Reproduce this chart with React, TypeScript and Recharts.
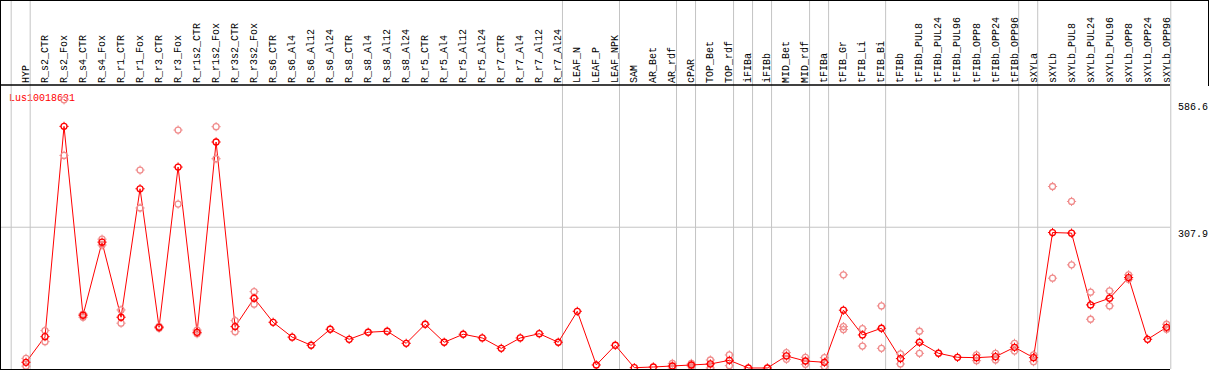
import { ComposedChart, Line, XAxis, YAxis, ReferenceLine } from "recharts";

const geneId = "Lus10018631";

const categories = [
  "HYP", "R_s2_CTR", "R_s2_Fox", "R_s4_CTR", "R_s4_Fox", "R_r1_CTR", "R_r1_Fox", "R_r3_CTR", "R_r3_Fox",
  "R_r1s2_CTR", "R_r1s2_Fox", "R_r3s2_CTR", "R_r3s2_Fox",
  "R_s6_CTR", "R_s6_Al4", "R_s6_Al12", "R_s6_Al24", "R_s8_CTR", "R_s8_Al4", "R_s8_Al12", "R_s8_Al24",
  "R_r5_CTR", "R_r5_Al4", "R_r5_Al12", "R_r5_Al24", "R_r7_CTR", "R_r7_Al4", "R_r7_Al12", "R_r7_Al24",
  "LEAF_N", "LEAF_P", "LEAF_NPK", "SAM", "AR_Bet", "AR_rdf", "cPAR", "TOP_Bet", "TOP_rdf",
  "iFIBa", "iFIBb", "MID_Bet", "MID_rdf", "tFIBa", "tFIB_Gr", "tFIB_Li", "tFIB_Bi",
  "tFIBb", "tFIBb_PUL8", "tFIBb_PUL24", "tFIBb_PUL96", "tFIBb_OPP8", "tFIBb_OPP24", "tFIBb_OPP96",
  "sXYLa", "sXYLb", "sXYLb_PUL8", "sXYLb_PUL24", "sXYLb_PUL96", "sXYLb_OPP8", "sXYLb_OPP24", "sXYLb_OPP96",
];

// mean expression per sample
const meanValues = [
  12.5, 68.6, 528.5, 115.4, 275.3, 111, 392, 89, 439.5,
  78, 494.3, 90.5, 152.6,
  100, 67.5, 49.7, 84.7, 62.8, 78.2, 80.4, 54,
  95.7, 56.3, 73.8, 65.7, 43, 65.7, 75, 56.3,
  124, 6.6, 49.7, 0.7, 2.2, 4.4, 6.6, 8.8, 16.8,
  0, 0, 26.3, 15.3, 12.5, 126.4, 72.3, 86.9,
  20.5, 56.3, 32.2, 23.4, 22.6, 24.8, 45.3,
  22.6, 296.3, 295, 138, 152.6, 197.8, 62.8, 89,
];

// individual replicates
const repA = [
  21, 81.8, 586.6, 118, 281.8, 127, 433, 91, 520.5,
  83, 527.8, 103.6, 167,
  null, null, null, null, null, null, null, null,
  null, null, null, null, null, null, null, null,
  null, null, null, null, null, 10, 10, 17.5, 28.5,
  null, null, 33.5, 23.4, 22.6, 203.7, 86, 135.8,
  30.7, 80.4, null, null, 28.5, 32, 54,
  28.5, 397, 364.3, 165.8, 168.6, 203.7, null, 95.7,
];

const repB = [
  4, 57.6, 465, 111, 269, 98, 350, 87, 358.5,
  75, 457.7, 79.5, 139.5,
  null, null, null, null, null, null, null, null,
  null, null, null, null, null, null, null, null,
  null, null, null, null, null, 0, 3, 0, 5,
  null, null, 19, 8, 3, 90.5, 48, 43,
  8.8, 32, null, null, 16, 17.5, 37,
  13.8, 196.4, 225.6, 106.6, 135.8, 194, null, 84.7,
];

const repC = categories.map((c) => (c === "tFIB_Gr" ? 84 : null));

// first sample of each group (grey separators)
const groupStarts = [
  "HYP", "R_s2_CTR", "LEAF_N", "SAM", "cPAR", "TOP_Bet", "iFIBa", "iFIBb",
  "MID_Bet", "tFIBa", "tFIB_Gr", "tFIBb", "sXYLa", "sXYLb",
];

const yTicks = [0, 307.9, 586.6];

const W = 1209;
const H = 370;
const HEADER = 85;
const PLOT_RIGHT = 1170;
const STEP = 19.01;
const X0 = 26;
const SEP = 0.78;
const Y_MIN = -2.2;
const Y_MAX = 619;
const FONT = "'Liberation Mono', 'DejaVu Sans Mono', monospace";
const RED = "#ff0000";
const PINK = "#f08c8c";
const GRID = "#c4c4c4";

const xDomain = [-X0 / STEP, (PLOT_RIGHT - X0) / STEP];
const yAtTop = Y_MAX + ((Y_MAX - Y_MIN) * HEADER) / (H - 1 - HEADER);

const data = categories.map((name, i) => ({
  x: i,
  name,
  mean: meanValues[i],
  a: repA[i],
  b: repB[i],
  c: repC[i],
}));

const separators = [...groupStarts.map((g) => categories.indexOf(g)), categories.length].map((i) => i - SEP);

function Ring(props: any) {
  const { cx, cy, value, color, index } = props;
  if (cx == null || cy == null || value == null || Number.isNaN(cy)) return <g key={index} />;
  const r = 3;
  const t = 1.6;
  return (
    <g key={index}>
      <circle cx={cx} cy={cy} r={r} fill="none" stroke={color} strokeWidth={1.3} />
      <line x1={cx} y1={cy - r} x2={cx} y2={cy - r - t} stroke={color} strokeWidth={1} />
      <line x1={cx} y1={cy + r} x2={cx} y2={cy + r + t} stroke={color} strokeWidth={1} />
      <line x1={cx - r} y1={cy} x2={cx - r - t} y2={cy} stroke={color} strokeWidth={1} />
      <line x1={cx + r} y1={cy} x2={cx + r + t} y2={cy} stroke={color} strokeWidth={1} />
    </g>
  );
}

function CatTick(props: any) {
  const { x, payload } = props;
  return (
    <text
      transform={`translate(${Math.round(x) + 3},83) rotate(-90)`}
      fontFamily={FONT}
      fontSize={10}
      fill="#000"
      textAnchor="start"
    >
      {categories[payload.value]}
    </text>
  );
}

function ValTick(props: any) {
  const { y, payload } = props;
  const dy = payload.value === 0 ? -3 : 10;
  return (
    <text x={PLOT_RIGHT + 8} y={y + dy} fontFamily={FONT} fontSize={10} fill="#000" textAnchor="start">
      {String(payload.value)}
    </text>
  );
}

export default function App() {
  return (
    <div style={{ position: "absolute", left: 0, top: 0, width: W, height: H, background: "#fff" }}>
      <ComposedChart width={W} height={H} data={data} margin={{ top: 0, right: 0, bottom: 1, left: 0 }}>
        <XAxis
          dataKey="x"
          type="number"
          orientation="top"
          domain={xDomain}
          allowDataOverflow
          ticks={categories.map((_, i) => i)}
          interval={0}
          height={HEADER}
          tickLine={false}
          axisLine={{ stroke: "#000", strokeWidth: 1.5 }}
          tick={<CatTick />}
        />
        <YAxis
          orientation="right"
          type="number"
          domain={[Y_MIN, Y_MAX]}
          allowDataOverflow
          ticks={yTicks}
          width={W - PLOT_RIGHT}
          tickLine={false}
          axisLine={false}
          tick={<ValTick />}
        />
        <ReferenceLine y={307.9} stroke={GRID} strokeWidth={1} segment={[{ x: xDomain[0], y: 307.9 }, { x: xDomain[1], y: 307.9 }]} />
        {separators.map((s) => (
          <ReferenceLine
            key={s}
            stroke={GRID}
            strokeWidth={1}
            ifOverflow="visible"
            segment={[{ x: s, y: Y_MIN }, { x: s, y: yAtTop }]}
          />
        ))}
        {(["a", "b", "c"] as const).map((k) => (
          <Line
            key={k}
            dataKey={k}
            stroke="none"
            isAnimationActive={false}
            connectNulls={false}
            dot={(p: any) => <Ring {...p} key={`${k}-${p.index}`} color={PINK} />}
            activeDot={false}
          />
        ))}
        <Line
          dataKey="mean"
          stroke={RED}
          strokeWidth={1}
          isAnimationActive={false}
          dot={(p: any) => <Ring {...p} key={`m-${p.index}`} color={RED} />}
          activeDot={false}
        />
        <text x={9} y={100.5} fontFamily={FONT} fontSize={10} fill={RED}>
          {geneId}
        </text>
      </ComposedChart>
      <div style={{ position: "absolute", left: 0, top: 0, width: W, height: 1, background: "#000" }} />
      <div style={{ position: "absolute", left: 0, top: 0, width: 1, height: H, background: "#000" }} />
      <div style={{ position: "absolute", left: W - 1, top: 0, width: 1, height: HEADER + 1, background: "#000" }} />
      <div style={{ position: "absolute", left: 0, top: H - 1, width: PLOT_RIGHT, height: 1, background: "#000" }} />
    </div>
  );
}
